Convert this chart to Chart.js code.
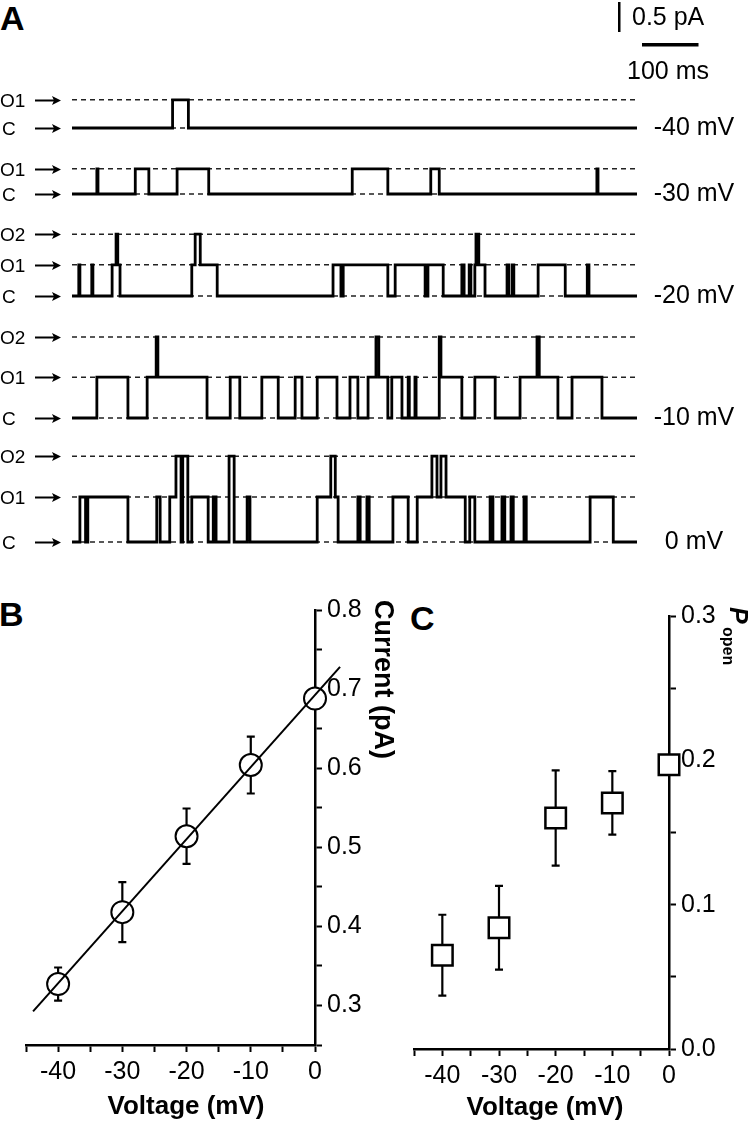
<!DOCTYPE html>
<html>
<head>
<meta charset="utf-8">
<title>Single channel currents</title>
<script src="https://cdn.jsdelivr.net/npm/chart.js@4.4.1/dist/chart.umd.min.js"></script>
<style>
  html, body { margin: 0; padding: 0; background: #fff; }
  #fig { position: relative; width: 750px; height: 1124px; overflow: hidden; }
  #fig canvas { position: absolute; }
  .panel { position: absolute; font: bold 34px "Liberation Sans", Arial, sans-serif; line-height: 34px; color: #000; }
</style>
</head>
<body>
<div id="fig">
  <div class="panel" style="left:0px;top:1px">A</div>
  <div class="panel" style="left:-1px;top:597px">B</div>
  <div class="panel" style="left:410px;top:601px">C</div>
</div>
<script>
// ---- data (A) : single channel traces ----
const traceVoltages = ['-40 mV', '-30 mV', '-20 mV', '-10 mV', '0 mV'];
const stateNames = ['C', 'O1', 'O2'];
const traceDuration = 1000; // ms
const scaleBarCurrent = 0.5; // pA
const scaleBarTime = 100;    // ms

// current level of each state (pA) : C, O1, O2
const levelsM40 = [0, 0.47];
const levelsM30 = [0, 0.42];
const levelsM20 = [0, 0.52, 1.03];
const levelsM10 = [0, 0.68, 1.35];
const levels0 = [0, 0.75, 1.43];

// transition times (ms) and state index entered at that time
const timesM40 = [0, 178, 206];
const statesM40 = [0, 1, 0];

const timesM30 = [0, 44, 46, 112, 136, 186, 242, 496, 559, 635, 650, 929, 931];
const statesM30 = [0, 1, 0, 1, 0, 1, 0, 1, 0, 1, 0, 1, 0];

const timesM20 = [0, 12, 14, 35, 37, 71, 78, 81, 85, 212, 218, 227, 257, 462, 476, 480, 559, 572, 625, 630,
  657, 690, 694, 703, 706, 713, 715, 720, 731, 770, 773, 779, 782, 825, 873, 912, 915];
const statesM20 = [0, 1, 0, 1, 0, 1, 2, 1, 0, 1, 2, 1, 0, 1, 0, 1, 0, 1, 0, 1,
  0, 1, 0, 1, 0, 1, 2, 1, 0, 1, 0, 1, 0, 1, 0, 1, 0];

const timesM10 = [0, 44, 99, 133, 149, 152, 239, 280, 297, 336, 365, 395, 407, 434, 469, 492, 506, 524, 538, 543,
  559, 566, 584, 595, 597, 607, 609, 650, 653, 690, 713, 749, 793, 823, 827, 860, 885, 938];
const statesM10 = [0, 1, 0, 1, 2, 1, 0, 1, 0, 1, 0, 1, 0, 1, 0, 1, 0, 1, 2, 1,
  0, 1, 0, 1, 0, 1, 0, 2, 1, 0, 1, 0, 1, 2, 1, 0, 1, 0];

const times0 = [0, 14, 24, 28, 99, 150, 156, 173, 184, 193, 196, 205, 212, 241, 250, 255, 278, 287, 310, 315,
  434, 458, 466, 471, 506, 510, 522, 526, 568, 595, 611, 637, 646, 653, 662, 696, 704, 713, 740, 745,
  761, 766, 777, 781, 800, 804, 917, 958];
const states0 = [0, 1, 0, 1, 0, 1, 0, 1, 2, 0, 2, 0, 1, 0, 1, 0, 2, 0, 1, 0,
  1, 2, 1, 0, 1, 0, 1, 0, 1, 0, 1, 2, 1, 2, 1, 0, 1, 0, 1, 0,
  1, 0, 1, 0, 1, 0, 1, 0];

// ---- data (B) : i-V ----
const voltages = [-40, -30, -20, -10, 0];
const currentMean = [0.327, 0.418, 0.514, 0.604, 0.688];
const currentSem = [0.021, 0.038, 0.035, 0.036, 0.008];
const fitVoltage = [-43.9, 3.9];
const fitCurrent = [0.2925, 0.728];

// ---- data (C) : Popen ----
const popenMean = [0.065, 0.084, 0.160, 0.1705, 0.197];
const popenSem = [0.028, 0.029, 0.033, 0.022, 0.005];

// ---- layout ----
const FONT = '"Liberation Sans", Arial, sans-serif';
const PX_PER_PA = 60;
const TRACE_ABOVE = 128, TRACE_BELOW = 25;
const tracePixelC = [128, 194, 296, 418, 542]; // y of closed level on the page

const fig = document.getElementById('fig');

function makeCanvas(id, left, top, w, h) {
  const c = document.createElement('canvas');
  c.id = id;
  c.width = w; c.height = h;
  c.style.left = left + 'px'; c.style.top = top + 'px';
  c.style.width = w + 'px'; c.style.height = h + 'px';
  fig.appendChild(c);
  return c.getContext('2d');
}

// step points : each point holds its level until the next one
function stepPoints(times, states, levels) {
  const pts = times.map((t, i) => ({ x: t, y: levels[states[i]] }));
  pts.push({ x: traceDuration, y: levels[states[states.length - 1]] });
  return pts;
}

// labels left (C / O1 / O2 + arrow), voltage on the right, scale bar on first trace
function makeTraceLabels(levels, voltage, withScaleBar) {
  return {
    id: 'traceLabels',
    afterDraw(chart) {
      const { ctx, scales: { x, y } } = chart;
      ctx.save();
      ctx.fillStyle = '#000';
      ctx.strokeStyle = '#000';
      ctx.textBaseline = 'middle';
      ctx.textAlign = 'left';
      ctx.font = '19px ' + FONT;
      levels.forEach((L, i) => {
        const py = Math.round(y.getPixelForValue(L)) + 0.5;
        ctx.fillText(stateNames[i], i === 0 ? 2 : 0, py + 1);
        ctx.lineWidth = 2;
        ctx.beginPath();
        ctx.moveTo(35, py); ctx.lineTo(56, py);
        ctx.stroke();
        ctx.beginPath();
        ctx.moveTo(61, py); ctx.lineTo(52, py - 4.5); ctx.lineTo(54, py); ctx.lineTo(52, py + 4.5);
        ctx.closePath();
        ctx.fill();
      });
      ctx.font = '25px ' + FONT;
      ctx.textAlign = 'center';
      ctx.fillText(voltage, 694, y.getPixelForValue(0));

      if (withScaleBar) {
        const vLen = y.getPixelForValue(0) - y.getPixelForValue(scaleBarCurrent);
        const hLen = x.getPixelForValue(scaleBarTime) - x.getPixelForValue(0);
        ctx.fillRect(618, 2, 2.5, vLen);
        ctx.textAlign = 'left';
        ctx.fillText(scaleBarCurrent + ' pA', 632, 18);
        ctx.fillRect(642, 43, hLen, 3.5);
        ctx.textAlign = 'center';
        ctx.fillText(scaleBarTime + ' ms', 668, 72);
      }
      ctx.restore();
    }
  };
} // end of makeTraceLabels

const traces = [
  { times: timesM40, states: statesM40, levels: levelsM40 },
  { times: timesM30, states: statesM30, levels: levelsM30 },
  { times: timesM20, states: statesM20, levels: levelsM20 },
  { times: timesM10, states: statesM10, levels: levelsM10 },
  { times: times0, states: states0, levels: levels0 }
];

traces.forEach((tr, k) => {
  const ctx = makeCanvas('trace' + k, 0, tracePixelC[k] - TRACE_ABOVE, 750, TRACE_ABOVE + TRACE_BELOW);
  const datasets = [{
    data: stepPoints(tr.times, tr.states, tr.levels),
    stepped: true,
    borderColor: '#000',
    borderWidth: 2.8,
    pointRadius: 0
  }];
  tr.levels.forEach(L => {
    datasets.push({
      data: [{ x: 0, y: L }, { x: traceDuration, y: L }],
      borderColor: '#222',
      borderWidth: 1.4,
      borderDash: [5, 4],
      pointRadius: 0
    });
  });
  new Chart(ctx, {
    type: 'line',
    data: { datasets: datasets },
    options: {
      responsive: false,
      animation: false,
      events: [],
      layout: { padding: { left: 72, right: 113, top: 0, bottom: 0 } },
      scales: {
        x: { type: 'linear', display: false, min: 0, max: traceDuration },
        y: { type: 'linear', display: false, min: -TRACE_BELOW / PX_PER_PA, max: TRACE_ABOVE / PX_PER_PA }
      },
      plugins: { legend: { display: false }, tooltip: { enabled: false } }
    },
    plugins: [makeTraceLabels(tr.levels, traceVoltages[k], k === 0)]
  });
}); // end of traces

// ---- B & C helpers ----
function makeErrorBars(xs, mean, sem) {
  return {
    id: 'errorBars',
    beforeDatasetsDraw(chart) {
      const { ctx, scales: { x, y } } = chart;
      ctx.save();
      ctx.strokeStyle = '#000';
      ctx.lineWidth = 2.2;
      xs.forEach((v, i) => {
        const px = x.getPixelForValue(v);
        const top = y.getPixelForValue(mean[i] + sem[i]);
        const bot = y.getPixelForValue(mean[i] - sem[i]);
        ctx.beginPath();
        ctx.moveTo(px, top); ctx.lineTo(px, bot);
        ctx.moveTo(px - 4, top); ctx.lineTo(px + 4, top);
        ctx.moveTo(px - 4, bot); ctx.lineTo(px + 4, bot);
        ctx.stroke();
      });
      ctx.restore();
    }
  };
}

// free text (axis titles)
function makeTexts(items) {
  return {
    id: 'texts',
    afterDraw(chart) {
      const ctx = chart.ctx;
      items.forEach(it => {
        ctx.save();
        ctx.fillStyle = '#000';
        ctx.font = it.font;
        ctx.textAlign = it.align || 'center';
        ctx.textBaseline = it.baseline || 'middle';
        ctx.translate(it.x, it.y);
        if (it.rotate) ctx.rotate(it.rotate);
        ctx.fillText(it.text, 0, 0);
        ctx.restore();
      });
    }
  };
}

const isTenth = v => Math.abs(v * 10 - Math.round(v * 10)) < 1e-6;

function xAxis(height) {
  return {
    type: 'linear', position: 'bottom', min: -45, max: 0,
    border: { display: true, color: '#000', width: 2.5 },
    grid: { display: true, drawOnChartArea: false, drawTicks: true, tickLength: 7, tickWidth: 2, tickColor: '#000' },
    ticks: {
      stepSize: 5, autoSkip: false, maxRotation: 0, padding: 5, color: '#000',
      font: { family: FONT, size: 25 },
      callback: v => (v % 10 === 0 ? String(v) : '')
    },
    afterFit: s => { s.height = height; }
  };
}

function yAxis(min, max, width) {
  return {
    type: 'linear', position: 'right', min: min, max: max,
    border: { display: true, color: '#000', width: 2.5 },
    grid: { display: true, drawOnChartArea: false, drawTicks: true, tickLength: 7, tickWidth: 2, tickColor: '#000' },
    ticks: {
      stepSize: 0.05, autoSkip: false, padding: 5, color: '#000',
      font: { family: FONT, size: 25 },
      callback: v => (isTenth(v) ? v.toFixed(1) : '')
    },
    afterFit: s => { s.width = width; }
  };
}

// ---- B : current vs voltage ----
const ctxB = makeCanvas('panelB', 0, 560, 400, 564);
new Chart(ctxB, {
  type: 'scatter',
  data: {
    datasets: [
      {
        type: 'line',
        data: fitVoltage.map((v, i) => ({ x: v, y: fitCurrent[i] })),
        borderColor: '#000', borderWidth: 2, pointRadius: 0, clip: false
      },
      {
        data: voltages.map((v, i) => ({ x: v, y: currentMean[i] })),
        pointStyle: 'circle', pointRadius: 11, pointBorderWidth: 2,
        pointBackgroundColor: '#fff', pointBorderColor: '#000', clip: false
      }
    ]
  },
  options: {
    responsive: false, animation: false, events: [],
    layout: { padding: { left: 26, top: 50, right: 0, bottom: 0 } },
    scales: { x: xAxis(79), y: yAxis(0.25, 0.8, 85) },
    plugins: { legend: { display: false }, tooltip: { enabled: false } }
  },
  plugins: [
    makeErrorBars(voltages, currentMean, currentSem),
    makeTexts([
      { text: 'Voltage (mV)', x: 186, y: 547, font: 'bold 26px ' + FONT },
      { text: 'Current (pA)', x: 375, y: 40, font: 'bold 27px ' + FONT, align: 'left', baseline: 'alphabetic', rotate: Math.PI / 2 }
    ])
  ]
});

// ---- C : open probability ----
const ctxC = makeCanvas('panelC', 390, 560, 360, 564);
new Chart(ctxC, {
  type: 'scatter',
  data: {
    datasets: [{
      data: voltages.map((v, i) => ({ x: v, y: popenMean[i] })),
      pointStyle: 'rect', pointRadius: 14.5, pointBorderWidth: 2.5,
      pointBackgroundColor: '#fff', pointBorderColor: '#000', clip: false
    }]
  },
  options: {
    responsive: false, animation: false, events: [],
    layout: { padding: { left: 24, top: 56, right: 0, bottom: 0 } },
    scales: { x: xAxis(75), y: yAxis(0, 0.3, 81) },
    plugins: { legend: { display: false }, tooltip: { enabled: false } }
  },
  plugins: [
    makeErrorBars(voltages, popenMean, popenSem),
    makeTexts([
      { text: 'Voltage (mV)', x: 155, y: 548, font: 'bold 26px ' + FONT },
      { text: 'P', x: 340, y: 47, font: 'italic bold 25px ' + FONT, align: 'left', baseline: 'alphabetic', rotate: Math.PI / 2 },
      { text: 'open', x: 333, y: 67, font: 'bold 16px ' + FONT, align: 'left', baseline: 'alphabetic', rotate: Math.PI / 2 }
    ])
  ]
});
console.log('charts ready');
</script>
</body>
</html>
